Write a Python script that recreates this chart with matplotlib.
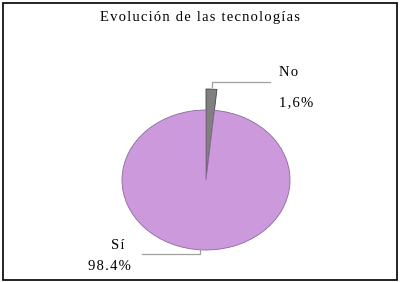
import matplotlib.pyplot as plt
from matplotlib.patches import Rectangle

title = 'Evolución de las tecnologías'
categories = ['No', 'Sí']
values = [1.6, 98.4]
pct_labels = ['1,6%', '98.4%']
colors = ['#808080', '#CC99DD']

plt.rcParams['font.family'] = ['Liberation Serif', 'DejaVu Serif']


def spaced(s):
    # the original text is set with a little letter spacing
    return '\u200a'.join(s)


fig = plt.figure(figsize=(4.0, 2.82), dpi=100)
fig.patch.set_facecolor('white')
fig.patches.append(Rectangle((3 / 400, 2 / 282), 394 / 400, 277 / 282, transform=fig.transFigure,
                             fill=False, edgecolor='black', linewidth=1.2))

ax = fig.add_axes([0, 0, 1, 1])
wedges, _ = ax.pie(values, colors=colors, startangle=90, counterclock=False,
                   wedgeprops=dict(edgecolor='#444444', linewidth=0.6))
# the small slice sticks out beyond the ellipse
wedges[0].set_radius(1.3)
wedges[1].set_edgecolor('#8a6a9a')

# stretch the pie into an ellipse: 84 px across, 70 px down per unit
cx, cy, rx, ry = 206, 180, 84, 70
ax.set_aspect('auto')
ax.set_xlim(-cx / rx, (400 - cx) / rx)
ax.set_ylim(-(282 - cy) / ry, cy / ry)
ax.axis('off')

fig.text(0.5, 1 - 18 / 282, spaced(title), ha='center', va='center', fontsize=10.5)

# leader lines
ax.plot([0.07, 0.07, 0.76], [1.33, 1.4, 1.4], color='#a0a0a0', lw=0.9)
ax.plot([-0.76, -0.07, -0.07], [-1.057, -1.057, -1.0], color='#a0a0a0', lw=0.9)

ax.text(0.87, 1.54, spaced(categories[0]), ha='left', va='center', fontsize=10.5)
ax.text(0.87, 1.10, spaced(pct_labels[0]), ha='left', va='center', fontsize=10.5)
ax.text(-0.975, -0.93, spaced(categories[1]), ha='right', va='center', fontsize=10.5)
ax.text(-0.89, -1.23, spaced(pct_labels[1]), ha='right', va='center', fontsize=10.5)

fig.savefig('out.png', dpi=100)
